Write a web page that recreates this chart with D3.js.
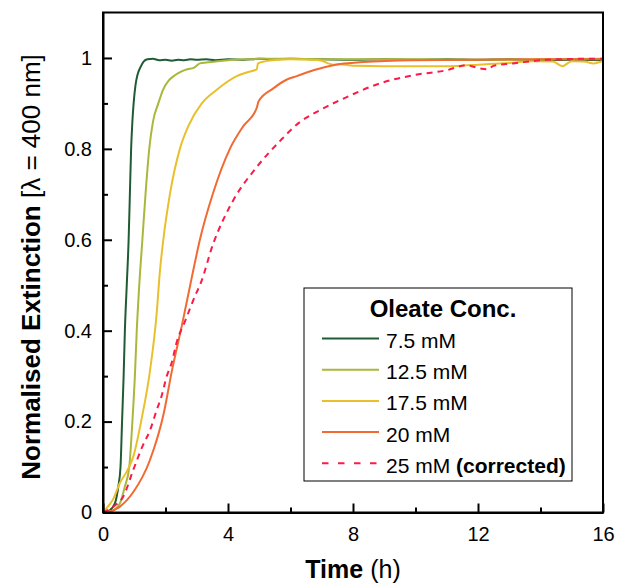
<!DOCTYPE html>
<html>
<head>
<meta charset="utf-8">
<script src="https://cdn.jsdelivr.net/npm/d3@7"></script>
<style>
  body { margin: 0; background: #fff; }
  text { font-family: "Liberation Sans", Arial, sans-serif; fill: #000; }
</style>
</head>
<body>
<div id="chart"></div>
<script>
// Data: [time (h), normalised extinction]
const conc7_5 = [[0,0],[0.2,0.004],[0.38,0.02],[0.49,0.057],[0.56,0.1],[0.61,0.2],[0.66,0.3],[0.7,0.4],
  [0.76,0.5],[0.82,0.6],[0.86,0.7],[0.9,0.8],[0.94,0.86],[0.98,0.9],[1.04,0.94],[1.1,0.962],[1.2,0.98],
  [1.3,0.992],[1.42,0.997],[1.6,0.998],[1.8,0.995],[2.0,0.996],[2.2,0.994],[2.4,0.996],[2.6,0.995],
  [2.8,0.997],[3.0,0.996],[3.3,0.997],[3.6,0.995],[4.0,0.997],[4.5,0.996],[5.0,0.998],[5.5,0.997],
  [6,0.998],[7,0.997],[8,0.996],[9,0.997],[10,0.996],[11,0.997],[12,0.996],[13,0.997],[14,0.995],
  [15,0.996],[16,0.995]];
const conc12_5 = [[0,0],[0.3,0.004],[0.54,0.02],[0.7,0.057],[0.84,0.1],[0.94,0.2],[1.02,0.3],[1.08,0.4],
  [1.16,0.5],[1.26,0.6],[1.36,0.7],[1.48,0.8],[1.6,0.86],[1.77,0.9],[1.92,0.93],[2.1,0.95],[2.3,0.962],
  [2.5,0.97],[2.7,0.975],[2.9,0.978],[3.0,0.983],[3.1,0.988],[3.3,0.99],[3.6,0.992],[4.0,0.995],
  [4.5,0.997],[5,0.998],[6,0.998],[7,0.997],[8,0.997],[10,0.997],[12,0.996],[14,0.997],[16,0.998]];
const conc17_5 = [[0,0],[0.12,0.01],[0.33,0.03],[0.54,0.065],[0.76,0.09],[0.97,0.123],[1.23,0.204],
  [1.5,0.31],[1.72,0.44],[1.82,0.53],[1.93,0.6],[2.14,0.7],[2.46,0.8],[2.73,0.85],[3.16,0.9],[3.64,0.93],
  [4.28,0.96],[4.6,0.968],[4.92,0.975],[4.96,0.988],[5.2,0.993],[5.6,0.996],[6,0.997],[6.6,0.996],
  [7.0,0.994],[7.2,0.988],[7.4,0.985],[7.6,0.986],[8,0.983],[9,0.982],[10,0.982],[11,0.982],[11.5,0.983],
  [12,0.985],[12.5,0.987],[13,0.989],[13.7,0.993],[14.4,0.992],[14.7,0.982],[15.0,0.993],[15.4,0.992],
  [15.7,0.988],[16,0.994]];
const conc20 = [[0,0],[0.22,0.002],[0.54,0.013],[0.97,0.045],[1.5,0.115],[1.95,0.22],[2.2,0.31],
  [2.52,0.41],[2.85,0.52],[3.1,0.6],[3.51,0.7],[4.06,0.8],[4.49,0.85],[4.92,0.89],[4.98,0.905],
  [5.45,0.933],[5.87,0.952],[6.2,0.96],[6.73,0.973],[7.37,0.984],[8.33,0.991],[9.93,0.995],[12,0.996],
  [14,0.997],[16,0.997]];
const conc25 = [[0,0],[0.33,0.013],[0.65,0.035],[0.97,0.094],[1.29,0.15],[1.5,0.18],[1.72,0.226],
  [1.87,0.255],[2.04,0.3],[2.2,0.33],[2.36,0.375],[2.62,0.42],[3.0,0.485],[3.1,0.5],[3.53,0.592],
  [4.17,0.687],[4.92,0.76],[5.66,0.817],[6.3,0.859],[6.94,0.885],[7.8,0.914],[8.86,0.944],[9.93,0.962],
  [11.0,0.973],[11.63,0.984],[12.0,0.978],[12.3,0.975],[12.5,0.983],[13.13,0.988],[14.2,0.996],
  [15.26,0.998],[16,0.998]];

const seriesNames = ["7.5 mM", "12.5 mM", "17.5 mM", "20 mM", "25 mM"];
const seriesData = [conc7_5, conc12_5, conc17_5, conc20, conc25];
const seriesColors = ["#1f5c33", "#a9b83c", "#e9c02b", "#f26a32", "#fb1a48"];

const xTicks = [0, 4, 8, 12, 16];
const xMinorTicks = [2, 6, 10, 14];
const yTicks = [0, 0.2, 0.4, 0.6, 0.8, 1];
const yMinorTicks = [0.1, 0.3, 0.5, 0.7, 0.9];

// Dimensions
const margin = { top: 12.5, right: 15, bottom: 70.5, left: 103 },
      width = 618 - margin.left - margin.right,
      height = 583 - margin.top - margin.bottom;

const svg = d3.select("#chart")
              .append("svg")
              .attr("width", 618)
              .attr("height", 583)
              .append("g")
              .attr("transform", `translate(${margin.left},${margin.top})`);

const x = d3.scaleLinear().domain([0, 16]).range([0, width]);
const y = d3.scaleLinear().domain([0, 1.1]).range([height, 0]);

svg.append("clipPath").attr("id", "plot-clip")
   .append("rect").attr("width", width).attr("height", height);

// Curves
const line = d3.line()
               .x(d => x(d[0]))
               .y(d => y(d[1]))
               .curve(d3.curveMonotoneX);

svg.append("g")
   .attr("clip-path", "url(#plot-clip)")
   .selectAll("path")
   .data(seriesData)
   .join("path")
   .attr("d", line)
   .attr("fill", "none")
   .attr("stroke", (d, i) => seriesColors[i])
   .attr("stroke-width", 2)
   .attr("stroke-dasharray", (d, i) => i === 4 ? "6,5" : null);

// Axes (ticks pointing inward)
const styleAxis = g => {
    g.selectAll("path, line").attr("stroke", "#000").attr("stroke-width", 2);
    g.selectAll("text").style("font-size", "20px").attr("fill", "#000")
     .style("font-family", "'Liberation Sans', Arial, sans-serif");
};

svg.append("g")
   .attr("transform", `translate(0,${height})`)
   .call(d3.axisBottom(x).tickValues(xTicks).tickSizeInner(-9).tickSizeOuter(0).tickPadding(14))
   .call(styleAxis);

svg.append("g")
   .attr("transform", `translate(0,${height})`)
   .call(d3.axisBottom(x).tickValues(xMinorTicks).tickSize(-5).tickFormat(""))
   .call(styleAxis)
   .select(".domain").remove();

svg.append("g")
   .call(d3.axisLeft(y).tickValues(yTicks).tickSizeInner(-9).tickSizeOuter(0).tickPadding(11)
           .tickFormat(d3.format("~g")))
   .call(styleAxis);

svg.append("g")
   .call(d3.axisLeft(y).tickValues(yMinorTicks).tickSize(-5).tickFormat(""))
   .call(styleAxis)
   .select(".domain").remove();

// Frame
svg.append("rect")
   .attr("width", width)
   .attr("height", height)
   .attr("fill", "none")
   .attr("stroke", "#000")
   .attr("stroke-width", 2);

// X-axis label
const xLabel = svg.append("text")
   .attr("text-anchor", "middle")
   .attr("x", width / 2)
   .attr("y", 578 - margin.top)
   .style("font-size", "25px");
xLabel.append("tspan").attr("font-weight", "bold").text("Time");
xLabel.append("tspan").text(" (h)");

// Y-axis label
const yLabel = svg.append("text")
   .attr("text-anchor", "middle")
   .attr("transform", "rotate(-90)")
   .attr("x", -(267 - margin.top))
   .attr("y", 40 - margin.left)
   .style("font-size", "26px");
yLabel.append("tspan").attr("font-weight", "bold").text("Normalised Extinction");
yLabel.append("tspan").text(" [λ = 400 nm]");

// Legend
const legend = svg.append("g")
                  .attr("transform", `translate(${304 - margin.left},${288 - margin.top})`);

legend.append("rect")
      .attr("width", 268)
      .attr("height", 193)
      .attr("fill", "#fff")
      .attr("stroke", "#000")
      .attr("stroke-width", 1);

legend.append("text")
      .attr("x", 139)
      .attr("y", 29)
      .attr("text-anchor", "middle")
      .attr("font-weight", "bold")
      .style("font-size", "24px")
      .text("Oleate Conc.");

const items = legend.selectAll("g.item")
      .data(seriesNames)
      .join("g")
      .attr("class", "item")
      .attr("transform", (d, i) => `translate(18,${50.5 + i * 31.2})`);

items.append("line")
     .attr("x1", 0).attr("x2", 57)
     .attr("stroke", (d, i) => seriesColors[i])
     .attr("stroke-width", 2)
     .attr("stroke-dasharray", (d, i) => i === 4 ? "6.5,9.5" : null);

items.append("text")
     .attr("x", 64)
     .attr("y", 9.5)
     .style("font-size", "21px")
     .each(function(d, i) {
         const t = d3.select(this);
         t.append("tspan").text(d);
         if (i === 4) t.append("tspan").attr("font-weight", "bold").text(" (corrected)");
     });
</script>
</body>
</html>
